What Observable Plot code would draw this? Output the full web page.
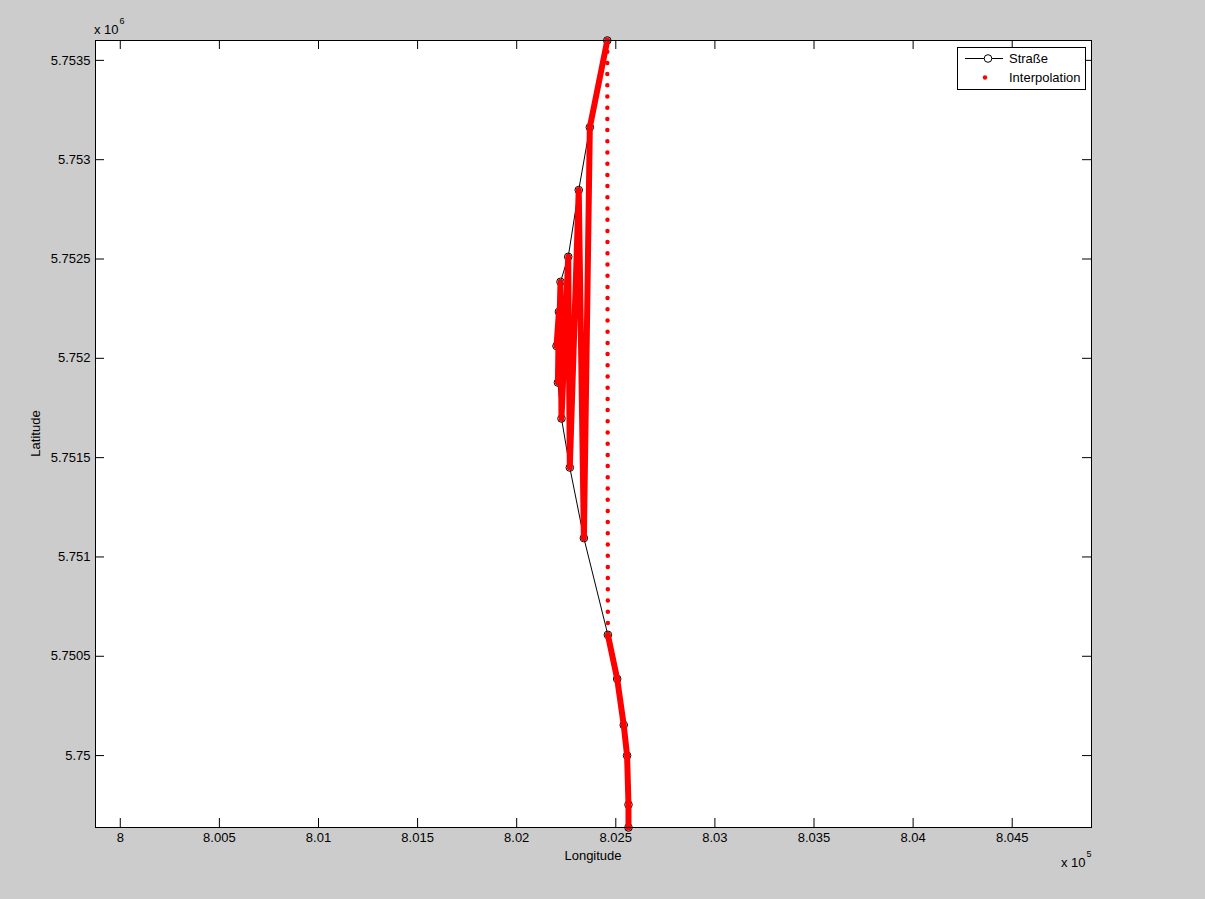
<!DOCTYPE html>
<html><head><meta charset="utf-8">
<script src="https://cdn.jsdelivr.net/npm/d3@7"></script>
<script src="https://cdn.jsdelivr.net/npm/@observablehq/plot@0.6"></script>
<style>
html,body{margin:0;padding:0;background:#cccccc;width:1205px;height:899px;overflow:hidden}
#chart{position:relative;width:1205px;height:899px}
</style></head><body><div id="chart"></div>
<script>
// Road points (Straße), in drawing order
const roadLon = [802457, 802369, 802313, 802260, 802221, 802213, 802201, 802208, 802226, 802268, 802339, 802460, 802507, 802540, 802557, 802564, 802564];
const roadLat = [5753600, 5753163, 5752847, 5752511, 5752385, 5752234, 5752062, 5751878, 5751697, 5751450, 5751095, 5750608, 5750386, 5750154, 5750000, 5749753, 5749638];
// Interpolation: dense runs (order of road points visited) and one sparse jump
const interpDenseRuns = [[0, 1, 10, 2, 9, 3, 8, 4, 7, 5, 6], [11, 12, 13, 14, 15, 16]];
const interpSparseRun = [0, 11];
// Axes
const xTicks = [800000, 800500, 801000, 801500, 802000, 802500, 803000, 803500, 804000, 804500];
const yTicks = [5750000, 5750500, 5751000, 5751500, 5752000, 5752500, 5753000, 5753500];
const xDomain = [799875, 804900];
const yDomain = [5749638, 5753600];
const seriesNames = ["Straße", "Interpolation"];
const xTitle = "Longitude", yTitle = "Latitude";

const W = 1205, H = 899, mL = 95, mR = 114, mT = 40, mB = 72;
const pw = W - mL - mR, ph = H - mT - mB, tl = 9;
const idx = roadLon.map((_, i) => i);
const fx = i => roadLon[i], fy = i => roadLat[i];
const fmtX = d => String(parseFloat((d / 1e5).toFixed(4)));
const fmtY = d => String(parseFloat((d / 1e6).toFixed(5)));

const marks = [
  Plot.frame({fill: "white"}),
  Plot.tickX(xTicks, {x: d => d, insetTop: ph - tl, stroke: "black"}),
  Plot.tickX(xTicks, {x: d => d, insetBottom: ph - tl, stroke: "black"}),
  Plot.tickY(yTicks, {y: d => d, insetRight: pw - tl, stroke: "black"}),
  Plot.tickY(yTicks, {y: d => d, insetLeft: pw - tl, stroke: "black"}),
  Plot.axisX({ticks: xTicks, tickSize: 0, tickPadding: 5, tickFormat: fmtX, label: null}),
  Plot.axisY({ticks: yTicks, tickSize: 0, tickPadding: 5, tickFormat: fmtY, label: null}),
  Plot.line(idx, {x: fx, y: fy, stroke: "black", strokeWidth: 1}),
  Plot.dot(idx, {x: fx, y: fy, r: 3.8, stroke: "black", fill: "none", strokeWidth: 1}),
  ...interpDenseRuns.map(run => Plot.line(run, {x: fx, y: fy, stroke: "#ff0000", strokeWidth: 6, strokeLinejoin: "round", strokeLinecap: "round"})),
  Plot.line(interpSparseRun, {x: fx, y: fy, stroke: "#ff0000", strokeWidth: 4.5, strokeDasharray: "0 11.2", strokeLinecap: "round"}),
  Plot.frame({stroke: "black"})
];

const chart = Plot.plot({
  width: W, height: H,
  marginLeft: mL, marginRight: mR, marginTop: mT, marginBottom: mB,
  x: {domain: xDomain},
  y: {domain: yDomain},
  style: {fontFamily: "Arial, 'Liberation Sans', sans-serif", fontSize: "13px", background: "#cccccc", color: "#000", overflow: "visible"},
  marks
});
document.getElementById("chart").appendChild(chart);

const svg = d3.select(chart);
const font = "Arial, 'Liberation Sans', sans-serif";
function txt(sel, x, y, s, anchor) {
  return sel.append("text").attr("x", x).attr("y", y).attr("text-anchor", anchor || "start")
    .attr("font-family", font).attr("font-size", 13).attr("fill", "#000").text(s);
}
// axis titles
txt(svg, mL + pw / 2, 860, xTitle, "middle");
svg.append("text").attr("transform", `translate(40,${mT + ph / 2}) rotate(-90)`).attr("text-anchor", "middle")
  .attr("font-family", font).attr("font-size", 13).attr("fill", "#000").text(yTitle);
// exponent multipliers
function mult(x, y, exp) {
  const t = svg.append("text").attr("x", x).attr("y", y).attr("text-anchor", "start")
    .attr("font-family", font).attr("font-size", 13).attr("fill", "#000");
  t.append("tspan").text("x 10");
  t.append("tspan").attr("dx", 1).attr("dy", -10).attr("font-size", 9).text(exp);
}
mult(94, 34, "6");
mult(1061, 867, "5");
// legend
const lg = svg.append("g");
lg.append("rect").attr("x", 957.5).attr("y", 47.5).attr("width", 128).attr("height", 42)
  .attr("fill", "white").attr("stroke", "black");
lg.append("line").attr("x1", 965).attr("x2", 1003).attr("y1", 58.5).attr("y2", 58.5).attr("stroke", "black");
lg.append("circle").attr("cx", 988).attr("cy", 58.5).attr("r", 3.8).attr("fill", "white").attr("stroke", "black");
lg.append("circle").attr("cx", 985).attr("cy", 77.5).attr("r", 2.2).attr("fill", "#ff0000");
txt(lg, 1009, 63, seriesNames[0]);
txt(lg, 1009, 82, seriesNames[1]);
</script></body></html>
